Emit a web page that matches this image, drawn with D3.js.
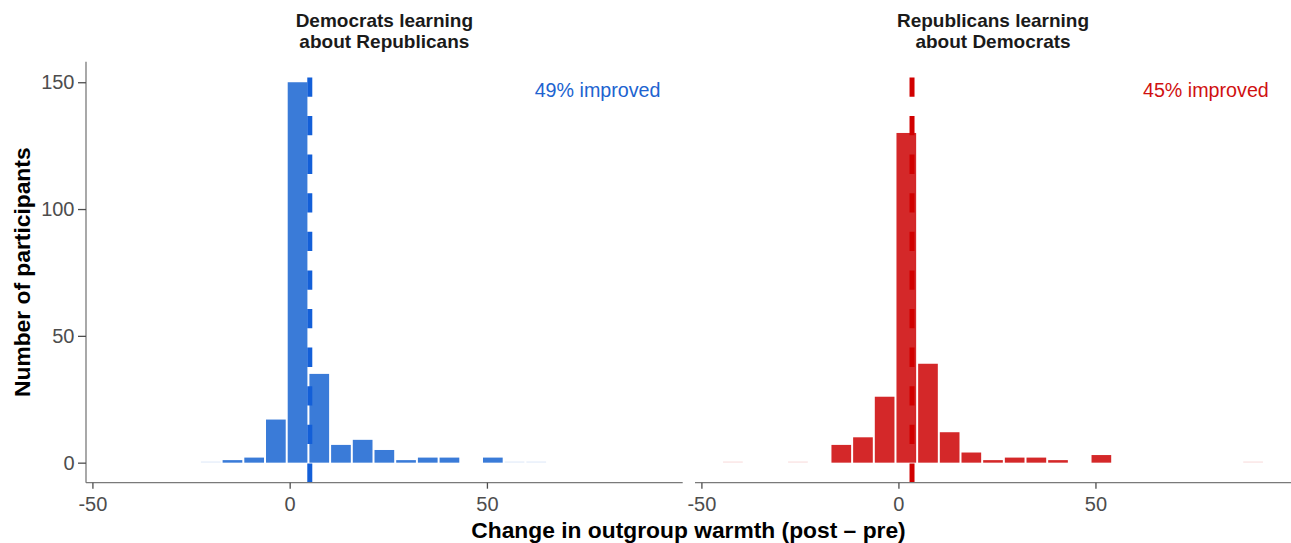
<!DOCTYPE html>
<html><head><meta charset="utf-8">
<script src="https://cdn.jsdelivr.net/npm/d3@7"></script>
<style>
body{margin:0;background:#fff;}
text{font-family:"Liberation Sans",Arial,Helvetica,sans-serif;}
</style></head>
<body><svg id="c" width="1291" height="543"></svg>
<script>
// Histogram bin centres (bin width 5.5)
const binCenters = [-42,-36.5,-31,-25.5,-20,-14.5,-9,-3.5,2,7.5,13,18.5,24,29.5,35,40.5,46,51.5,57,62.5,68,73.5,79,84.5,90];
const binWidth = 5.5;
// Counts per bin
const demCounts = [0,0,0,0,0.3,1,2,17,150,35,7,9,5,1,2,2,0,2,0.3,0.3,0,0,0,0,0];
const repCounts = [0.3,0,0,0.3,0,7,10,26,130,39,12,4,1,2,2,1,0,3,0,0,0,0,0,0,0.3];
const panelTitles = [["Democrats learning","about Republicans"],["Republicans learning","about Democrats"]];
const meanChange = [5.1, 3.45];
const improvedLabels = ["49% improved","45% improved"];
const xTicks = [-50,0,50];
const yTicks = [0,50,100,150];
const xLabel = "Change in outgroup warmth (post \u2013 pre)";
const yLabel = "Number of participants";

const fills = ["#3a7bd8","#d42829"];
const lineCols = ["#135fd8","#d10000"];
const textCols = ["#2063d0","#d01010"];

const svg = d3.select("#c");
const panels = [{x0:86,x1:682.7,counts:demCounts},{x0:695,x1:1291,counts:repCounts}];
const yTop = 61.7, yBot = 482.7;
const y = d3.scaleLinear().domain([-7.9,158.1]).range([yBot,yTop]);

panels.forEach((p,i)=>{
  const x = d3.scaleLinear().domain([-51.625,99.625]).range([p.x0,p.x1]);
  const g = svg.append("g");
  const data = binCenters.map((c,k)=>({c, n:p.counts[k]})).filter(d=>d.n>0);
  g.selectAll("rect.bar").data(data).enter().append("rect")
    .attr("x",d=>x(d.c-binWidth/2)+1)
    .attr("width",d=>x(d.c+binWidth/2)-x(d.c-binWidth/2)-2)
    .attr("y",d=>d.n<1 ? y(0)-1.2 : y(d.n))
    .attr("height",d=>d.n<1 ? 1.2 : y(0)-y(d.n))
    .attr("fill",fills[i])
    .attr("fill-opacity",d=>d.n<1?0.15:1);
  // dashed mean line
  g.append("line")
    .attr("x1",x(meanChange[i])).attr("x2",x(meanChange[i]))
    .attr("y1",yBot).attr("y2",yTop)
    .attr("stroke",lineCols[i]).attr("stroke-width",5)
    .attr("stroke-dasharray","19.3 19.3");
  // x axis
  const xa = g.append("g").attr("transform",`translate(0,${yBot})`)
    .call(d3.axisBottom(x).tickValues(xTicks).tickSize(6).tickFormat(d3.format("d")));
  xa.select(".domain").attr("stroke","#7a7a7a").attr("stroke-width",1.3).attr("d",`M${p.x0},0H${p.x1}`);
  xa.selectAll(".tick line").attr("stroke","#4d4d4d").attr("stroke-width",1.3);
  xa.selectAll(".tick text").attr("fill","#4d4d4d").attr("font-size",20).attr("y",28.5).attr("dy",null)
    .text(d=>d<0?"-"+Math.abs(d):d);
  // titles
  const t = g.append("text").attr("text-anchor","middle").attr("font-weight","bold")
    .attr("font-size",19).attr("fill","#1a1a1a");
  panelTitles[i].forEach((s,j)=>t.append("tspan").attr("x",(p.x0+p.x1)/2).attr("y",27.3+j*20.3).text(s));
  // annotation
  g.append("text").attr("x",x(94)).attr("y",96.7).attr("text-anchor","end")
    .attr("font-size",19.7).attr("fill",textCols[i]).text(improvedLabels[i]);
  if(i===0){
    const ya = g.append("g").attr("transform",`translate(${p.x0},0)`)
      .call(d3.axisLeft(y).tickValues(yTicks).tickSize(8));
    ya.select(".domain").attr("stroke","#7a7a7a").attr("stroke-width",1.3).attr("d",`M0,${yTop}V${yBot}`);
    ya.selectAll(".tick line").attr("stroke","#4d4d4d").attr("stroke-width",1.3);
    ya.selectAll(".tick text").attr("fill","#4d4d4d").attr("font-size",20).attr("x",-11.5);
  }
});
svg.append("text").attr("x",688.5).attr("y",538).attr("text-anchor","middle")
  .attr("font-weight","bold").attr("font-size",22.8).attr("fill","#000").text(xLabel);
svg.append("text").attr("transform","translate(29.5,272.2) rotate(-90)").attr("text-anchor","middle")
  .attr("font-weight","bold").attr("font-size",22.8).attr("fill","#000").text(yLabel);
</script></body></html>
